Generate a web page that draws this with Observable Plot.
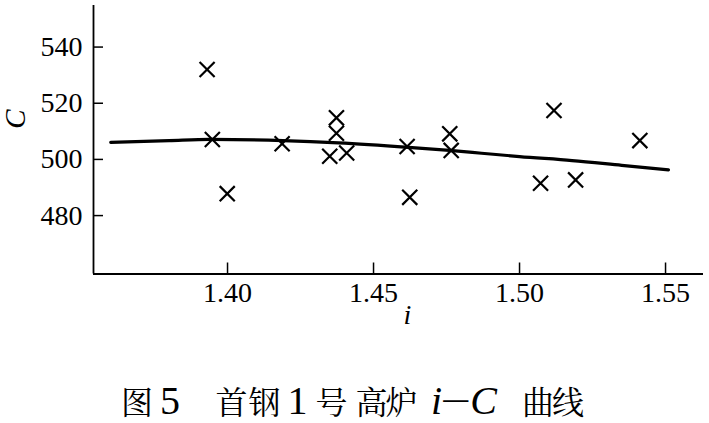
<!DOCTYPE html>
<html>
<head>
<meta charset="utf-8">
<script src="https://cdn.jsdelivr.net/npm/d3@7"></script>
<script src="https://cdn.jsdelivr.net/npm/@observablehq/plot@0.6"></script>
<style>
  html, body { margin: 0; padding: 0; background: #fff; }
  body { position: relative; width: 709px; height: 423px; }
  #chart { width: 709px; }
  #caption {
    position: absolute; left: 0; top: 380px; width: 709px; box-sizing: border-box;
    padding-left: 121px; white-space: nowrap; color: #000;
    font-family: "Liberation Serif", serif; font-size: 40px; line-height: 40px;
  }
  #caption .cjk { font-family: "Noto Serif CJK SC", "Noto Sans CJK SC", serif; font-size: 32px; letter-spacing: -1px; }
  #caption .lat { font-family: "Liberation Serif", serif; font-size: 40px; }
  #caption i { font-family: "Liberation Serif", serif; font-size: 40px; }
  #caption .dash { font-family: "Liberation Serif", serif; font-size: 25px; font-weight: bold;
    position: relative; top: -7px; }
</style>
</head>
<body>
<div id="chart"></div>
<div id="caption"><span class="cjk">图</span> <span class="lat" style="margin-left:-2px">5</span> <span class="cjk" style="margin-left:25.5px">首</span><span class="cjk" style="margin-left:2px">钢</span> <span class="lat" style="margin-left:-2px">1</span> <span class="cjk" style="margin-left:-2px">号</span><span class="cjk" style="margin-left:9px">高</span><span class="cjk" style="margin-left:-1px">炉</span> <i style="margin-left:4.5px">i</i><span class="dash" style="margin-left:1px">—</span><i style="margin-left:2px">C</i> <span class="cjk" style="margin-left:15px">曲</span><span class="cjk" style="margin-left:-1px">线</span></div>
<script>
// scatter observations (i, C)
const pointI = [1.3930, 1.3948, 1.3999, 1.4187, 1.4350, 1.4373, 1.4373, 1.4408, 1.4615, 1.4624, 1.4761, 1.4766, 1.5072, 1.5118, 1.5192, 1.5412];
const pointC = [532.0, 507.1, 487.8, 505.6, 501.1, 514.8, 509.3, 502.3, 504.6, 486.5, 509.1, 503.2, 491.5, 517.4, 492.7, 506.7];
// fitted curve
const curveI = [1.360, 1.380, 1.394, 1.419, 1.438, 1.462, 1.476, 1.487, 1.500, 1.518, 1.535, 1.551];
const curveC = [506.1, 506.7, 507.1, 506.7, 505.9, 504.3, 503.2, 502.2, 501.0, 499.6, 497.9, 496.3];
// axes
const xTicks = [1.40, 1.45, 1.50, 1.55];
const yTicks = [480, 500, 520, 540];
const xDomain = [1.3541, 1.5630];
const yDomain = [459.2, 554.8];
const xLabel = "i";
const yLabel = "C";

const points = pointI.map((v, k) => ({i: v, C: pointC[k]}));
const curve = curveI.map((v, k) => ({i: v, C: curveC[k]}));

const W = 709, H = 360;
const mL = 93, mR = 6, mT = 5, mB = 86.5;
const plotW = W - mL - mR, plotH = H - mT - mB;

const chart = Plot.plot({
  width: W, height: H,
  marginLeft: mL, marginRight: mR, marginTop: mT, marginBottom: mB,
  style: {fontFamily: "Liberation Serif, serif", fontSize: "28px", color: "#000", background: "#fff"},
  x: {domain: xDomain, axis: null},
  y: {domain: yDomain, axis: null},
  marks: [
    Plot.axisX(xTicks, {tickSize: 0, tickPadding: 8, tickFormat: d3.format(".2f"), fontSize: 28, label: null}),
    Plot.axisY(yTicks, {tickSize: 0, tickPadding: 11, fontSize: 28, label: null}),
    Plot.tickX(xTicks, {x: d => d, insetTop: plotH - 11, stroke: "#000", strokeWidth: 1.5}),
    Plot.tickY(yTicks, {y: d => d, insetRight: plotW - 10, stroke: "#000", strokeWidth: 1.5}),
    Plot.ruleX([xDomain[0]], {stroke: "#000", strokeWidth: 1.8}),
    Plot.ruleY([yDomain[0]], {stroke: "#000", strokeWidth: 1.8}),
    Plot.line(curve, {x: "i", y: "C", curve: "monotone-x", stroke: "#000", strokeWidth: 3.2}),
    Plot.dot(points, {x: "i", y: "C", symbol: "times", r: 6.9, stroke: "#000", strokeWidth: 2.2}),
    Plot.text([xLabel], {frameAnchor: "bottom", dx: 9, dy: 50, fontStyle: "italic", fontSize: 28, text: d => d}),
    Plot.text([yLabel], {frameAnchor: "left", dx: -78, dy: -11, rotate: -90, fontStyle: "italic", fontSize: 29, text: d => d})
  ]
});
document.getElementById("chart").appendChild(chart);
</script>
</body>
</html>
